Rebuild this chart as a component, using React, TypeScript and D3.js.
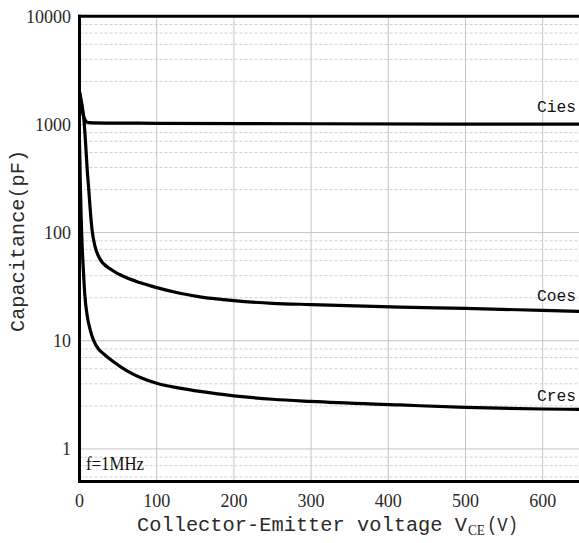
import React from "react";
import * as d3 from "d3";

const W = 579;
const H = 543;

const xTicks = [0, 100, 200, 300, 400, 500, 600];
const yTicks = [1, 10, 100, 1000, 10000];
const minorFactors = [2.5, 4, 5.5, 7, 8.4];

const ciesV = [0, 2, 4, 6, 8, 10, 14, 20, 50, 100, 300, 650];
const ciesC = [2000, 1600, 1300, 1150, 1080, 1050, 1040, 1035, 1030, 1025, 1015, 1005];

const coesV = [0, 2, 4, 6, 8, 10, 12, 14, 16, 20, 26, 40, 52, 78, 100, 130, 156, 200, 250, 300, 415, 500, 600, 650];
const coesC = [2000, 1700, 1400, 1050, 650, 380, 250, 160, 110, 75, 58, 46, 41, 34.5, 31, 27.5, 25.5, 23.5, 22.2, 21.6, 20.5, 19.9, 19.1, 18.7];

const cresV = [0, 1, 2, 3, 5, 7, 10, 14, 18, 25, 31, 44, 61, 78, 100, 130, 156, 200, 250, 300, 415, 500, 600, 650];
const cresC = [700, 300, 150, 90, 45, 26, 17, 12.5, 10.2, 8.3, 7.6, 6.4, 5.3, 4.6, 4.05, 3.65, 3.4, 3.1, 2.88, 2.75, 2.55, 2.42, 2.34, 2.32];

const seriesLabels = ["Cies", "Coes", "Cres"];

const left = 79.5;
const right = 79.5 + 650 * 0.772;
const top = 16.3;
const bottom = 481.5;

export default function App() {
  const x = d3.scaleLinear().domain([0, 650]).range([left, right]);
  const y = d3.scaleLog().domain([0.5, 10000]).range([bottom, top]);

  const line = d3
    .line<[number, number]>()
    .x((d) => x(d[0]))
    .y((d) => y(d[1]))
    .curve(d3.curveMonotoneX);

  const series = [
    { v: ciesV, c: ciesC },
    { v: coesV, c: coesC },
    { v: cresV, c: cresC },
  ];

  const minorLines: number[] = [];
  [0.1, 1, 10, 100, 1000].forEach((dec) =>
    minorFactors.forEach((f) => {
      const val = dec * f;
      if (val >= 0.5 && val < 10000) minorLines.push(val);
    })
  );

  const labelPos = [{ y: 112 }, { y: 301 }, { y: 401 }];

  const textFill = "#2a2a2a";

  return (
    <svg
      width={W}
      height={H}
      style={{ position: "absolute", left: 0, top: 0, background: "#fff" }}
    >
      <defs>
        <clipPath id="plot">
          <rect x={left} y={top} width={right - left} height={bottom - top} />
        </clipPath>
      </defs>
      <rect x={0} y={0} width={W} height={H} fill="#fff" />
      {minorLines.map((v, i) => (
        <line
          key={"m" + i}
          x1={left}
          x2={right}
          y1={y(v)}
          y2={y(v)}
          stroke="#cfcfcf"
          strokeWidth={1}
          strokeDasharray="3,2"
        />
      ))}
      {yTicks.map((v) => (
        <line key={"y" + v} x1={left} x2={right} y1={y(v)} y2={y(v)} stroke="#c4c4c4" strokeWidth={1} />
      ))}
      {xTicks.slice(1).map((v) => (
        <line key={"x" + v} x1={x(v)} x2={x(v)} y1={top} y2={bottom} stroke="#c4c4c4" strokeWidth={1} />
      ))}
      <g clipPath="url(#plot)">
        {series.map((s, i) => (
          <path
            key={i}
            d={line(s.v.map((v, j) => [v, s.c[j]] as [number, number])) || ""}
            fill="none"
            stroke="#000"
            strokeWidth={3.2}
            strokeLinejoin="round"
          />
        ))}
      </g>
      <line x1={left} x2={left} y1={top - 1.5} y2={bottom + 1.5} stroke="#000" strokeWidth={3} />
      <line x1={left - 1.5} x2={W + 5} y1={top} y2={top} stroke="#000" strokeWidth={3} />
      <line x1={left - 1.5} x2={W + 5} y1={bottom} y2={bottom} stroke="#000" strokeWidth={3} />
      {yTicks.map((v) => (
        <text
          key={"yl" + v}
          x={71}
          y={y(v)}
          dy="0.36em"
          textAnchor="end"
          fontFamily="'Liberation Serif', serif"
          fontSize={18}
          fill={textFill}
        >
          {String(v)}
        </text>
      ))}
      {xTicks.map((v) => (
        <text
          key={"xl" + v}
          x={x(v)}
          y={507}
          textAnchor="middle"
          fontFamily="'Liberation Serif', serif"
          fontSize={18}
          fill={textFill}
        >
          {String(v)}
        </text>
      ))}
      {seriesLabels.map((s, i) => (
        <text
          key={s}
          x={537}
          y={labelPos[i].y}
          fontFamily="'Liberation Mono', monospace"
          fontSize={17}
          textLength={39}
          lengthAdjust="spacingAndGlyphs"
          fill="#111"
        >
          {s}
        </text>
      ))}
      <text
        x={86}
        y={470}
        fontFamily="'Liberation Serif', serif"
        fontSize={19}
        textLength={58}
        lengthAdjust="spacingAndGlyphs"
        fill="#111"
      >
        f=1MHz
      </text>
      <text
        x={137}
        y={531}
        fontFamily="'Liberation Mono', monospace"
        fontSize={20}
        textLength={330}
        lengthAdjust="spacingAndGlyphs"
        fill={textFill}
      >
        Collector-Emitter voltage V
      </text>
      <text
        x={468}
        y={535}
        fontFamily="'Liberation Serif', serif"
        fontSize={15}
        textLength={17}
        lengthAdjust="spacingAndGlyphs"
        fill={textFill}
      >
        CE
      </text>
      <text
        x={487}
        y={531}
        fontFamily="'Liberation Mono', monospace"
        fontSize={20}
        textLength={31}
        lengthAdjust="spacingAndGlyphs"
        fill={textFill}
      >
        (V)
      </text>
      <text
        transform="translate(24,241) rotate(-90)"
        textAnchor="middle"
        fontFamily="'Liberation Mono', monospace"
        fontSize={20}
        textLength={182}
        lengthAdjust="spacingAndGlyphs"
        fill={textFill}
      >
        Capacitance(pF)
      </text>
    </svg>
  );
}
